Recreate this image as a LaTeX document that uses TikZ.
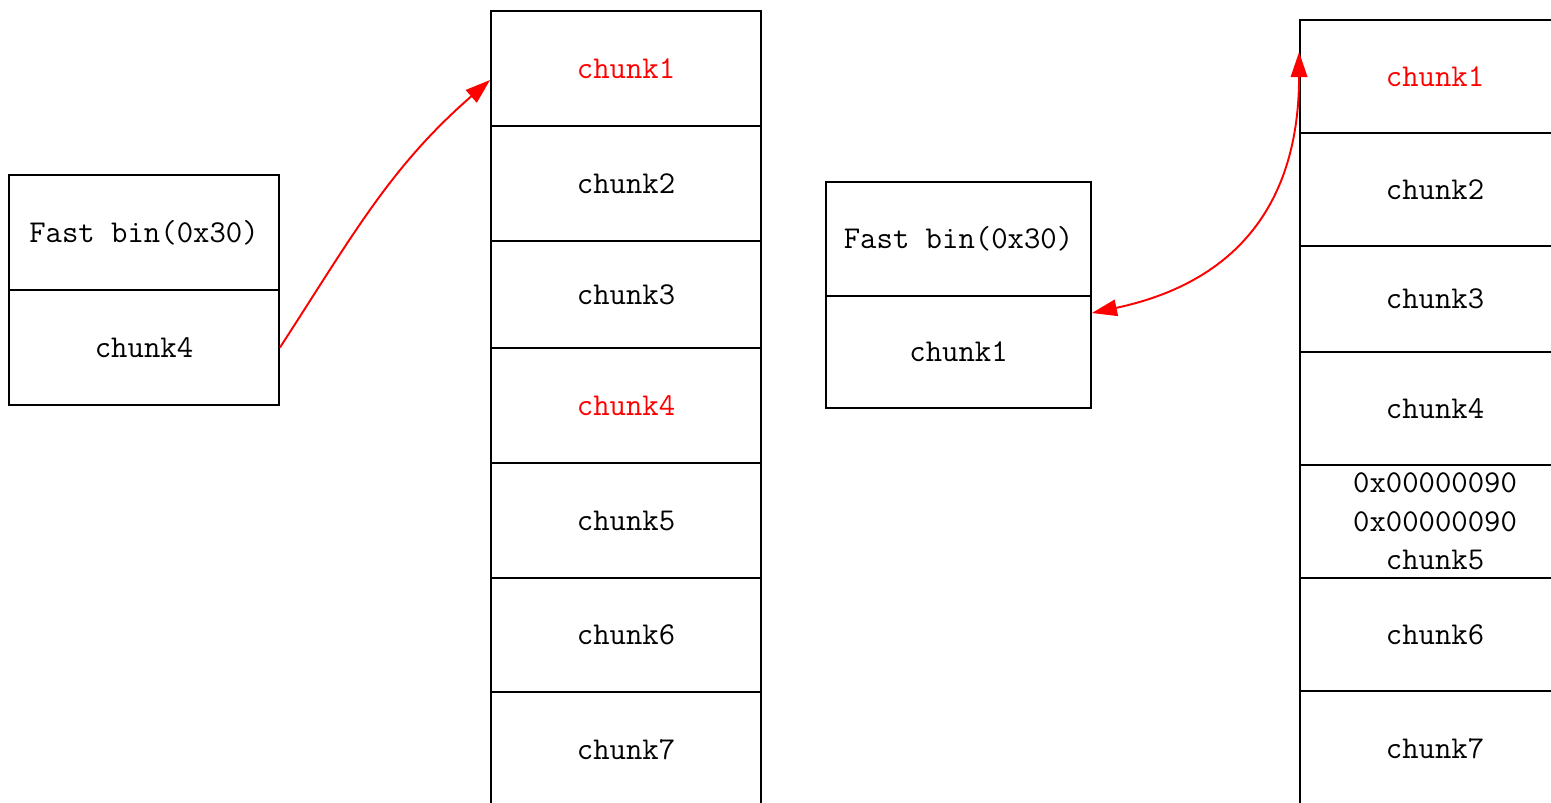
\documentclass[tikz,border=0pt]{standalone}
\definecolor{ptrred}{RGB}{255, 0, 0}
\usepackage{tikz}
\usetikzlibrary{arrows.meta, positioning}

\begin{document}
\begin{tikzpicture}[
  x=0.02cm, y=-0.02cm,
  cell/.style={draw, line width=1.1pt, minimum width=5.4cm, minimum height=2.3cm, inner sep=0pt, align=center, font=\ttfamily\fontsize{18.1}{21.9}\selectfont},
  ptr/.style={line width=1.1pt, ptrred, >={Triangle[length=0.5cm, width=0.33cm]}}
]
  \useasboundingbox (0, 0) rectangle (1551, 802);

  % Fast bin before
  \node[cell] (bin) at (144, 232.5) {Fast bin(0x30)};
  \node[cell] (binhead) at (144, 347.5) {chunk4};

  % Heap before
  \node[cell, text=ptrred] (a1) at (626, 68.5) {chunk1};
  \node[cell] (a2) at (626, 183.5) {chunk2};
  \node[cell, minimum height=2.14cm] (a3) at (626, 294.5) {chunk3};
  \node[cell, text=ptrred] (a4) at (626, 405.5) {chunk4};
  \node[cell] (a5) at (626, 520.5) {chunk5};
  \node[cell, minimum height=2.28cm] (a6) at (626, 635) {chunk6};
  \node[cell] (a7) at (626, 749.5) {chunk7};

  \draw[ptr, ->] (binhead.east) to[out=57, in=-139] ([yshift=-0.23cm]a1.west);

  % Fast bin after
  \node[cell, minimum width=5.3cm, minimum height=2.28cm] (bin2) at (958.5, 239) {Fast bin(0x30)};
  \node[cell, minimum width=5.3cm, minimum height=2.24cm] (bin2head) at (958.5, 352) {chunk1};

  % Heap after
  \node[cell, minimum height=2.26cm, text=ptrred] (b1) at (1435, 76.5) {chunk1};
  \node[cell, minimum height=2.26cm] (b2) at (1435, 189.5) {chunk2};
  \node[cell, minimum height=2.12cm] (b3) at (1435, 299) {chunk3};
  \node[cell, minimum height=2.26cm] (b4) at (1435, 408.5) {chunk4};
  \node[cell, minimum height=2.26cm] (b5) at (1435, 521.5) {0x00000090\\0x00000090\\chunk5};
  \node[cell, minimum height=2.26cm] (b6) at (1435, 634.5) {chunk6};
  \node[cell] (b7) at (1435, 748.5) {chunk7};

  \draw[ptr, <->] ([yshift=0.78cm]bin2head.east) to[out=12, in=-90, looseness=1.15] ([yshift=0.49cm]b1.west);
\end{tikzpicture}
\end{document}
